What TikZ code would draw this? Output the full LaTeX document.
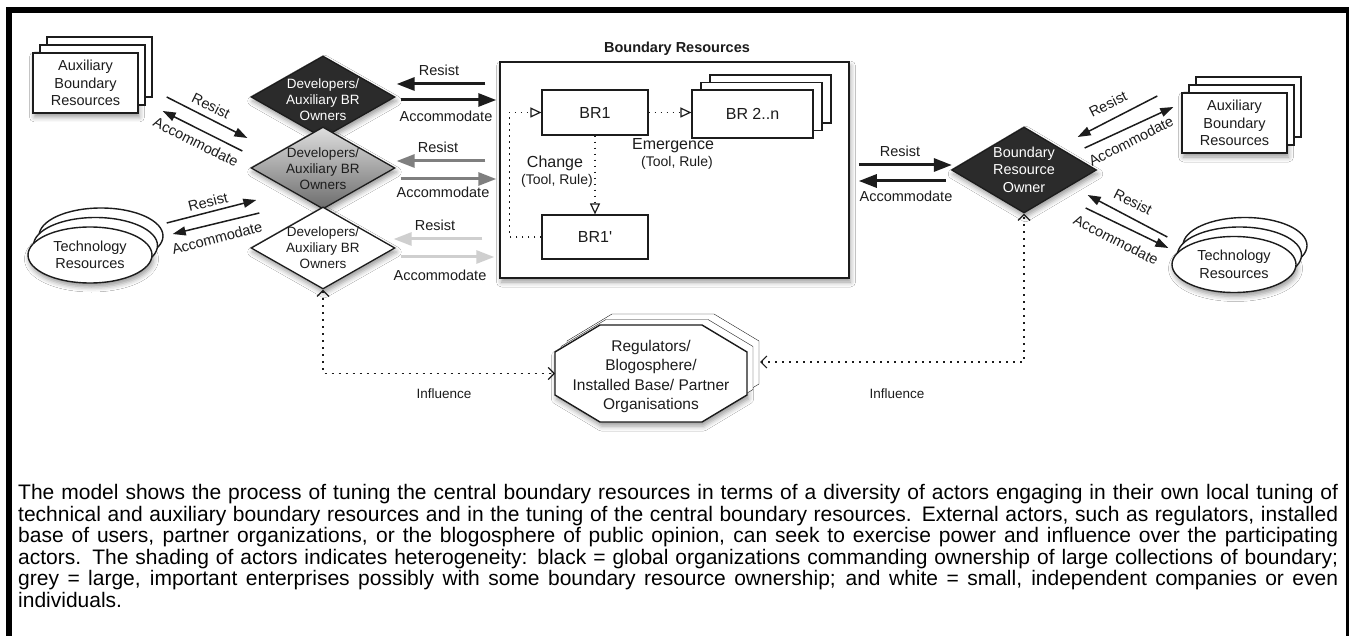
\documentclass[tikz,border=0pt]{standalone}
\usepackage{fontspec}
\setmainfont{Liberation Sans}
\usetikzlibrary{arrows.meta,shapes.geometric,shadows,shadows.blur,calc}

\definecolor{ink}{HTML}{1C1C1C}
\definecolor{midgrey}{HTML}{7F7F7F}
\definecolor{palegrey}{HTML}{CFCFCF}
\definecolor{darkfill}{HTML}{2B2B2B}
\definecolor{greytop}{HTML}{DEDEDE}
\definecolor{greybot}{HTML}{6C6C6C}

\newcommand{\fsz}[2]{\fontsize{#1}{#2}\selectfont}

\tikzset{
  soft/.style={blur shadow={shadow xshift=1.5pt,shadow yshift=-4pt,shadow blur radius=5pt,shadow opacity=40}},
  auxstack/.style={draw=ink,fill=white,line width=1.4pt,minimum width=105pt,minimum height=60pt,
    inner sep=0pt,align=center,text=ink,font=\fsz{14.5}{17.5},soft,
    copy shadow={shadow xshift=14pt,shadow yshift=16pt},
    copy shadow={shadow xshift=7pt,shadow yshift=8pt}},
  techstack/.style={ellipse,draw=ink,fill=white,line width=1.4pt,minimum width=124pt,minimum height=56pt,
    inner sep=0pt,align=center,text=ink,font=\fsz{14.5}{17.5},soft,
    copy shadow={shadow xshift=11pt,shadow yshift=19pt},
    copy shadow={shadow xshift=5.5pt,shadow yshift=9.5pt}},
  actor/.style={diamond,draw=ink,line width=1.3pt,minimum width=144pt,minimum height=82pt,inner sep=0pt,soft},
  actortext/.style={align=center,inner sep=0pt,text=ink,font=\fsz{13.5}{16}},
  brpart/.style={draw=ink,fill=white,line width=1.2pt,inner sep=0pt,text=ink,font=\fsz{16}{18}},
  tug/.style={line width=1.5pt,ink,-{Triangle[length=13pt,width=9pt]}},
  bigtug/.style={line width=3pt,-{Triangle[length=18pt,width=13pt]}},
  lbl/.style={inner sep=0pt,text=ink,font=\fsz{14.5}{17}},
  flow/.style={line width=1.4pt,ink,dash pattern=on 1.5pt off 4.5pt,
    -{Triangle[open,length=11pt,width=10pt,line width=1.2pt]}},
  influence/.style={line width=1.3pt,ink,dash pattern=on 2pt off 5pt,
    {Straight Barb[length=6pt,width=12pt,line width=1.2pt]}-{Straight Barb[length=6pt,width=12pt,line width=1.2pt]}},
  octo/.style={draw=ink,fill=white,line width=1.4pt,soft,
    copy shadow={shadow xshift=12pt,shadow yshift=11pt},
    copy shadow={shadow xshift=6pt,shadow yshift=5.5pt}}
}

\begin{document}
\begin{tikzpicture}[x=1pt,y=-1pt]
\useasboundingbox (0,0) rectangle (1349,636);
\fill[white] (0,0) rectangle (1349,636);

% page frame
\fill[black] (6,7) rectangle (1349,13);
\fill[black] (6,7) rectangle (12,636);
\fill[black] (1346,7) rectangle (1348.5,636);

% ---------- left-hand resources ----------
\node[auxstack] (auxL) at (85.5,83) {Auxiliary\\Boundary\\Resources};
\node[techstack] (techL) at (90,255) {Technology\\Resources};

% ---------- developer actors ----------
\node[actor,fill=darkfill] (dblack) at (323,97) {};
\node[actortext,text=white] (tblack) at (323,99.5) {Developers/\\Auxiliary BR\\Owners};
\node[actor,top color=greytop,bottom color=greybot] (dgrey) at (323,168) {};
\node[actortext] (tgrey) at (323,169) {Developers/\\Auxiliary BR\\Owners};
\node[actor,fill=white] (dwhite) at (323,248) {};
\node[actortext] (twhite) at (323,248) {Developers/\\Auxiliary BR\\Owners};

% ---------- central boundary resources ----------
\node[brpart,line width=1.5pt,minimum width=349pt,minimum height=216pt,soft] (brb) at (674.5,170) {};
\node[inner sep=0pt,text=ink,font=\bfseries\fsz{14.5}{17}] (brtitle) at (677,49) {Boundary Resources};
\node[brpart,minimum width=106pt,minimum height=45pt] (br1) at (595,112.5) {BR1};
\node[brpart,minimum width=121pt,minimum height=48pt,
  copy shadow={shadow xshift=18pt,shadow yshift=15pt},
  copy shadow={shadow xshift=9pt,shadow yshift=7.5pt}] (brn) at (752.5,114) {BR 2..n};
\node[brpart,minimum width=106pt,minimum height=44pt] (br1p) at (595,237) {BR1\textquotesingle};

\draw[flow] (br1.east) -- (brn.west |- br1.east);
\draw[flow] (br1.south) -- (br1p.north);
\draw[flow] (br1p.west) -- ++(-32,0) |- (br1.west);

\node[inner sep=0pt,text=ink,font=\fsz{16}{18}] (chg) at (555,163) {Change};
\node[inner sep=0pt,text=ink,font=\fsz{14}{16}] (chgsub) at (557,181) {(Tool, Rule)};
\node[inner sep=0pt,text=ink,font=\fsz{16}{18}] (emg) at (673,146) {Emergence};
\node[inner sep=0pt,text=ink,font=\fsz{14}{16}] (emgsub) at (677,163) {(Tool, Rule)};

% ---------- owner side ----------
\node[actor,fill=darkfill,minimum width=145pt,minimum height=86pt] (dbro) at (1024,170) {};
\node[actortext,text=white,font=\fsz{14.4}{17.5}] (tbro) at (1024,169.5) {Boundary\\Resource\\Owner};
\node[auxstack] (auxR) at (1234.5,123) {Auxiliary\\Boundary\\Resources};
\node[techstack] (techR) at (1234,264.5) {Technology\\Resources};

% ---------- external actors ----------
\path[octo] (600,325) -- (702,325) -- (747,352) -- (747,395) -- (702,422)
  -- (600,422) -- (555,395) -- (555,352) -- cycle;
\node[align=center,inner sep=0pt,text=ink,font=\fsz{15.5}{19.6}] (reg) at (651,376.5)
  {Regulators/\\Blogosphere/\\Installed Base/ Partner\\Organisations};
\coordinate (octL) at (555,373.5);
\coordinate (octR) at (760,362);

% ---------- resist / accommodate between developers and their resources ----------
\draw[tug] ($(auxL.east)+(28,14)$) -- ($(dblack.west)+(-3,41)$);
\draw[tug] ($(dblack.west)+(-8,54)$) -- ($(auxL.east)+(24,28)$);
\node[lbl,rotate=-26.6] (la1) at (211,106) {Resist};
\node[lbl,rotate=-26.6] (la2) at (196,142) {Accommodate};

\draw[tug] ($(techL.east)+(14,-32)$) -- ($(dwhite.west)+(6,-48)$);
\draw[tug] ($(dwhite.west)+(9,-35)$) -- ($(techL.east)+(20,-21)$);
\node[lbl,rotate=14] (lb1) at (208,202) {Resist};
\node[lbl,rotate=15] (lb2) at (217,238) {Accommodate};

% ---------- resist / accommodate between developers and boundary resources ----------
\draw[bigtug,ink] ($(brb.west)+(-14,-86)$) -- ($(dblack.east)+(1,-13)$);
\draw[bigtug,ink] ($(dblack.east)+(5,3)$) -- ($(brb.west)+(-3,-70)$);
\node[lbl] (lc1) at (439,70) {Resist};
\node[lbl] (lc2) at (446,116) {Accommodate};

\draw[bigtug,midgrey] ($(brb.west)+(-14,-9)$) -- ($(dgrey.east)+(1,-7)$);
\draw[bigtug,midgrey] ($(dgrey.east)+(5,11)$) -- ($(brb.west)+(-3,9)$);
\node[lbl] (ld1) at (438,147) {Resist};
\node[lbl] (ld2) at (443,192) {Accommodate};

\draw[bigtug,palegrey] ($(brb.west)+(-17,69)$) -- ($(dwhite.east)+(-2,-9)$);
\draw[bigtug,palegrey] ($(dwhite.east)+(5,9)$) -- ($(brb.west)+(-5,87)$);
\node[lbl] (le1) at (435,225) {Resist};
\node[lbl] (le2) at (440,275) {Accommodate};

% ---------- resist / accommodate between boundary resources and owner ----------
\draw[bigtug,ink] ($(brb.east)+(9,-5)$) -- ($(dbro.west)+(1,-5)$);
\draw[bigtug,ink] ($(dbro.west)+(-5,11)$) -- ($(brb.east)+(9,11)$);
\node[lbl] (lf1) at (900,151) {Resist};
\node[lbl] (lf2) at (906,196) {Accommodate};

% ---------- resist / accommodate between owner and its resources ----------
\draw[tug] ($(auxR.west)+(-24,-27)$) -- ($(dbro.east)+(-19.5,-33)$);
\draw[tug] ($(dbro.east)+(-12.5,-22)$) -- ($(auxR.west)+(-8,-16)$);
\node[lbl,rotate=27] (lg1) at (1108,104) {Resist};
\node[lbl,rotate=27] (lg2) at (1131,141) {Accommodate};

\draw[tug] ($(techR.west)+(-4,-27.5)$) -- ($(dbro.east)+(-9.5,25)$);
\draw[tug] ($(dbro.east)+(-11.5,38)$) -- ($(techR.west)+(-3,-16.5)$);
\node[lbl,rotate=-27] (lh1) at (1133,202) {Resist};
\node[lbl,rotate=-27] (lh2) at (1116,240) {Accommodate};

% ---------- influence ----------
\draw[influence] (dwhite.south) |- (octL);
\draw[influence] (octR) -| (dbro.south);
\node[inner sep=0pt,text=ink,font=\fsz{13.5}{16}] (inf1) at (444,394) {Influence};
\node[inner sep=0pt,text=ink,font=\fsz{13.5}{16}] (inf2) at (897,394) {Influence};

% ---------- caption ----------
\node[anchor=north west,inner sep=0pt,text width=1320pt,align=justify,text=black] (caption) at (18,484)
{\fsz{21}{21.6}The model shows the process of tuning the central boundary resources in terms of a diversity of actors engaging in their own local tuning of\linebreak
technical and auxiliary boundary resources and in the tuning of the central boundary resources.  External actors, such as regulators, installed\linebreak
base of users, partner organizations, or the blogosphere of public opinion, can seek to exercise power and influence over the participating\linebreak
actors.  The shading of actors indicates heterogeneity:  black = global organizations commanding ownership of large collections of boundary;\linebreak
grey = large, important enterprises possibly with some boundary resource ownership; and white = small, independent companies or even\linebreak
individuals.\par};
\end{tikzpicture}
\end{document}
